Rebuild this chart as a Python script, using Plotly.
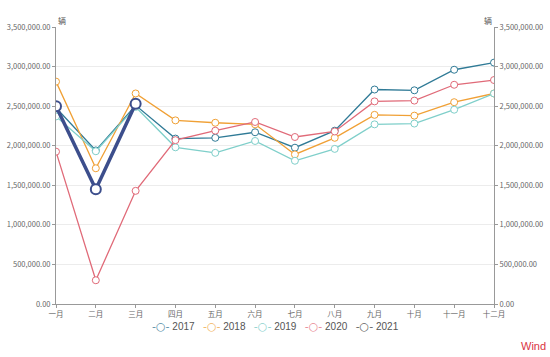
import plotly.graph_objects as go

months = ["一月", "二月", "三月", "四月", "五月", "六月", "七月", "八月", "九月", "十月", "十一月", "十二月"]
s2017 = [2480000, 1940000, 2510000, 2090000, 2100000, 2170000, 1975000, 2190000, 2710000, 2700000, 2960000, 3050000]
s2018 = [2810000, 1715000, 2660000, 2320000, 2290000, 2270000, 1890000, 2100000, 2390000, 2380000, 2550000, 2660000]
s2019 = [2370000, 1930000, 2490000, 1980000, 1910000, 2060000, 1810000, 1960000, 2270000, 2280000, 2455000, 2660000]
s2020 = [1925000, 300000, 1430000, 2070000, 2190000, 2300000, 2110000, 2180000, 2560000, 2570000, 2770000, 2830000]
s2021 = [2500000, 1450000, 2530000]
names = ["2017", "2018", "2019", "2020", "2021"]
colors = ["#2f7a96", "#f0a035", "#7fcfca", "#e06a78", "#3c4e8c"]
legend_cols = ["#5b8fa8", "#f2b665", "#8fd3cf", "#e98a95", "#666666"]

fig = go.Figure()
series = [s2017, s2018, s2019, s2020, s2021]
for nm, vals, col in zip(names, series, colors):
    thick = nm == "2021"
    fig.add_trace(go.Scatter(
        x=months[:len(vals)], y=vals, name=nm, mode="lines+markers", showlegend=False,
        line=dict(color=col, width=3.5 if thick else 1.3),
        marker=dict(symbol="circle", size=10 if thick else 7, color="white",
                    line=dict(color=col, width=2 if thick else 1)),
    ))
# invisible trace to activate right axis
fig.add_trace(go.Scatter(x=months, y=s2017, yaxis="y2", showlegend=False,
                         mode="lines", line=dict(width=0), hoverinfo="skip", opacity=0))

tick_vals = [0, 500000, 1000000, 1500000, 2000000, 2500000, 3000000, 3500000]
yax = dict(range=[0, 3500000], tickvals=tick_vals, tickformat=",.2f",
           showline=True, linecolor="#999", linewidth=1, ticks="outside",
           ticklen=3, tickcolor="#999", tickfont=dict(size=7.5, color="#666"),
           zeroline=False, automargin=False)
fig.update_layout(
    width=550, height=357,
    margin=dict(l=56, r=56, t=27, b=53, autoexpand=False),
    paper_bgcolor="white", plot_bgcolor="white",
    font=dict(family="Noto Sans CJK SC, sans-serif", color="#666"),
    xaxis=dict(type="category", categoryorder="array", categoryarray=months,
               range=[0, 11], showline=True, linecolor="#999", ticks="outside",
               ticklen=3, tickcolor="#999", tickfont=dict(size=7.5, color="#666"),
               showgrid=False, automargin=False),
    yaxis=dict(**yax, showgrid=True, gridcolor="#ececec"),
    yaxis2=dict(**yax, overlaying="y", side="right", showgrid=False),
    showlegend=False,
)
legend_text = "&nbsp;&nbsp;&nbsp;".join(
    f"<span style='color:{c};font-size:11px;font-family:DejaVu Sans'>-○-</span> {n}"
    for n, c in zip(names, legend_cols))
fig.add_annotation(text=legend_text, xref="paper", yref="paper", x=0.5, y=0, yshift=-22,
                   xanchor="center", yanchor="middle", showarrow=False,
                   font=dict(size=10, color="#555", family="Liberation Sans, sans-serif"))
fig.add_annotation(text="辆", xref="paper", yref="paper", x=0, y=1, yshift=14,
                   showarrow=False, font=dict(size=8, color="#555"))
fig.add_annotation(text="辆", xref="paper", yref="paper", x=1, y=1, yshift=14,
                   showarrow=False, font=dict(size=8, color="#555"))
fig.add_annotation(text="Wind", xref="paper", yref="paper", x=1, y=0, xshift=54, yshift=-42,
                   xanchor="right", yanchor="middle", showarrow=False,
                   font=dict(size=11, color="#d9333f", family="Liberation Sans, sans-serif"))
fig.write_html("out.html", config={"displayModeBar": False},
               post_script="document.body.style.margin='0';")
